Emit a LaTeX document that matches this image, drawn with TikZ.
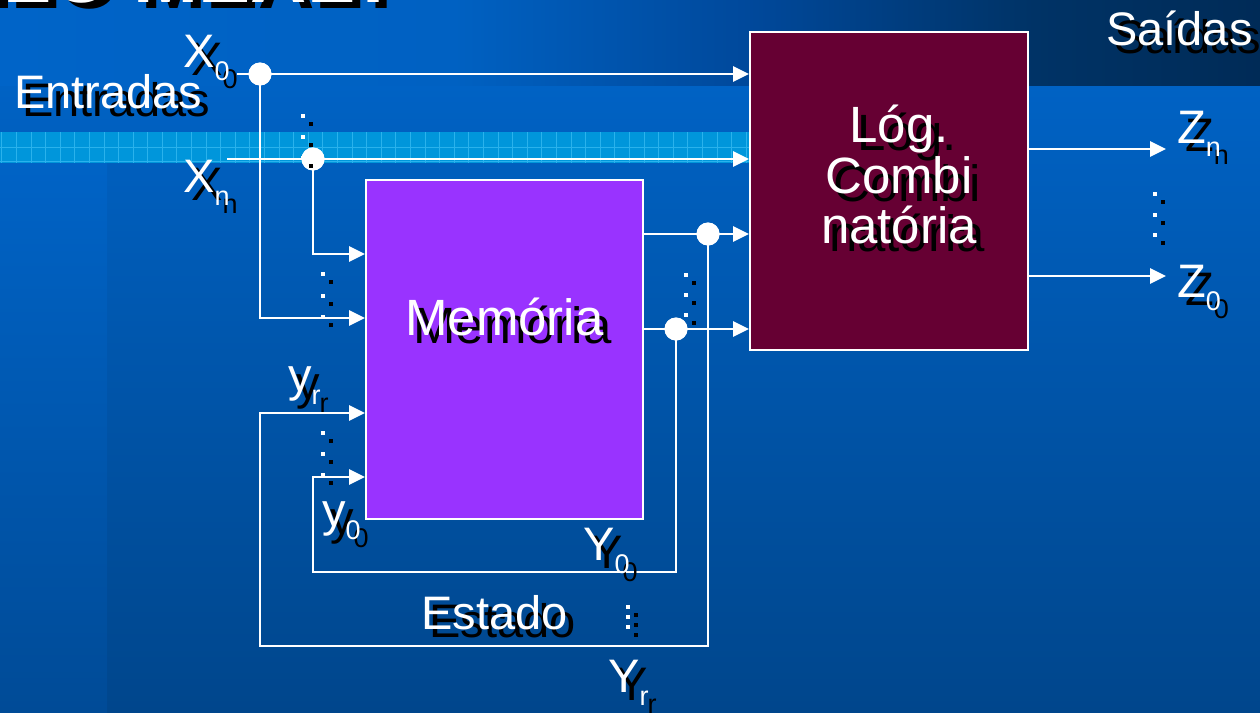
\documentclass[tikz,border=0pt]{standalone}
\usepackage{fontspec}
\setmainfont{Liberation Sans}
\usetikzlibrary{arrows.meta,calc}
\definecolor{bgtop}{HTML}{0062C4}
\definecolor{bgbot}{HTML}{00468C}
\definecolor{striptop}{HTML}{0063C6}
\definecolor{stripbot}{HTML}{004B97}
\definecolor{hdA}{HTML}{0064C8}
\definecolor{hdA2}{HTML}{0061C2}
\definecolor{hdB}{HTML}{00489A}
\definecolor{hdB2}{HTML}{003366}
\definecolor{hdC}{HTML}{002B57}
\definecolor{bandc}{HTML}{0096DB}
\definecolor{gridc}{HTML}{2AB2EC}
\definecolor{memfill}{HTML}{9933FF}
\definecolor{logfill}{HTML}{660033}
\pgfdeclarehorizontalshading{hdshade}{100bp}{color(0bp)=(hdA); color(25bp)=(hdA); color(43bp)=(hdA2); color(55bp)=(hdB); color(66bp)=(hdB2); color(75bp)=(hdC); color(100bp)=(hdC)}
\newcommand\sbs[1]{\raisebox{-13pt}{\fontsize{27}{27}\selectfont #1}}
\newcommand\shtxt[4][]{%
  \node[lbl,text=black,#1] (#2s) at ($(#3)+(8,8)$) {#4};
  \node[lbl,text=white,#1] (#2) at (#3) {#4};}
\newcommand\edots[3]{%
  \foreach \k in {0,1,2} {\fill[black] ($(#1+6,#2+6)+(0,\k*#3)$) rectangle ++(4,4);}
  \foreach \k in {0,1,2} {\fill[white] ($(#1-2,#2-2)+(0,\k*#3)$) rectangle ++(4,4);}}
\begin{document}
\begin{tikzpicture}[x=1pt,y=-1pt,
  lbl/.style={font=\fontsize{47}{50}\selectfont, inner sep=0pt, anchor=base west},
  boxtxt/.style={font=\fontsize{51}{54}\selectfont},
  wire/.style={draw=white, line width=2.8pt},
  arr/.style={-{Triangle[length=16pt,width=15pt]}},
  jdot/.style={circle, fill=white, minimum size=23pt, inner sep=0pt},
  blockbox/.style={draw=white, line width=2pt, inner sep=0pt}]
\useasboundingbox (0,0) rectangle (1260,712);
\clip (0,0) rectangle (1260,712);
% background
\fill[top color=bgtop, bottom color=bgbot] (0,85) rectangle (1260,712);
\fill[top color=striptop, bottom color=stripbot] (0,163) rectangle (107,712);
\fill[shading=hdshade] (0,0) rectangle (1260,85);
\fill[bandc] (0,132) rectangle (750,163);
\foreach \gx in {1,16,31,45,60,74,89,104,118,133,147,162,176,191,206,220,235,249,264,279,293,308,322,337,352,366,381,395,410,425,439,454,468,483,498,512,527,541,556,571,585,600,614,629,644,658,673,687,702,717,731,746}
  \draw[gridc, line width=0.8pt] (\gx,132) -- (\gx,163);
\draw[gridc, line width=0.8pt] (0,147) -- (750,147);
\draw[gridc, line width=0.8pt] (0,161) -- (750,161);
% clipped title
\node[inner sep=0pt, anchor=base east, text=black, font=\bfseries\fontsize{78}{80}\selectfont] (titles) at (408,9) {MODELO MEALY};
\node[inner sep=0pt, anchor=base east, text=white, font=\bfseries\fontsize{78}{80}\selectfont] (title) at (400,2) {MODELO MEALY};
% blocks
\node[blockbox, fill=memfill, minimum width=277pt, minimum height=339pt] (mem) at (504.5,349.5) {};
\node[blockbox, fill=logfill, minimum width=278pt, minimum height=318pt] (log) at (889,191) {};
% junctions and free ends
\coordinate (x0in) at (237,74);
\coordinate (xnin) at (227,159);
\coordinate (fbA) at (260,646);
\coordinate (fbB) at (313,572);
\coordinate (zn) at (1166,149);
\coordinate (z0) at (1166,276);
\node[jdot] (j0) at (260,74) {};
\node[jdot] (jn) at (313,159) {};
\node[jdot] (ja) at (708,234) {};
\node[jdot] (jb) at (676,329) {};
% wires
\draw[wire] (x0in) -- (j0.center);
\draw[wire,arr] (j0.center) -- (log.west |- j0);
\draw[wire,arr] (j0.center) |- (mem.west |- 0,318);
\draw[wire] (xnin) -- (jn.center);
\draw[wire,arr] (jn.center) -- (log.west |- jn);
\draw[wire,arr] (jn.center) |- (mem.west |- 0,254);
\draw[wire,arr] (mem.east |- ja) -- (log.west |- ja);
\draw[wire,arr] (mem.east |- jb) -- (log.west |- jb);
\draw[wire,arr] (ja.center) |- (fbA) |- (mem.west |- 0,413);
\draw[wire,arr] (jb.center) |- (fbB) |- (mem.west |- 0,477);
\draw[wire,arr] (log.east |- zn) -- (zn);
\draw[wire,arr] (log.east |- z0) -- (z0);
% redraw dots on top
\node[jdot] (j0b) at (j0) {};
\node[jdot] (jnb) at (jn) {};
\node[jdot] (jab) at (ja) {};
\node[jdot] (jbb) at (jb) {};
% ellipses
\edots{303}{116}{21}
\edots{323}{274}{21.5}
\edots{323}{433}{21}
\edots{686}{275}{20}
\edots{628}{607}{10}
\edots{1155}{194}{20.5}
% labels
\shtxt{lEnt}{14,108}{Entradas}
\shtxt{lSai}{1106,45}{Saídas}
\shtxt{lX0}{183,67}{X\sbs{0}}
\shtxt{lXn}{183,192}{X\sbs{n}}
\shtxt{lyr}{288,391}{y\sbs{r}}
\shtxt{ly0}{322,526}{y\sbs{0}}
\shtxt{lY0}{583,560}{Y\sbs{0}}
\shtxt{lYr}{608,692}{Y\sbs{r}}
\shtxt{lZn}{1177,143}{Z\sbs{n}}
\shtxt{lZ0}{1177,297}{Z\sbs{0}}
\shtxt{lEst}{421,629}{Estado}
\shtxt[boxtxt]{lMem}{405,335}{Memória}
\shtxt[boxtxt,anchor=base]{lL1}{899,142}{Lóg.}
\shtxt[boxtxt,anchor=base]{lL2}{899,193}{Combi}
\shtxt[boxtxt,anchor=base]{lL3}{899,243}{natória}
\end{tikzpicture}
\end{document}
